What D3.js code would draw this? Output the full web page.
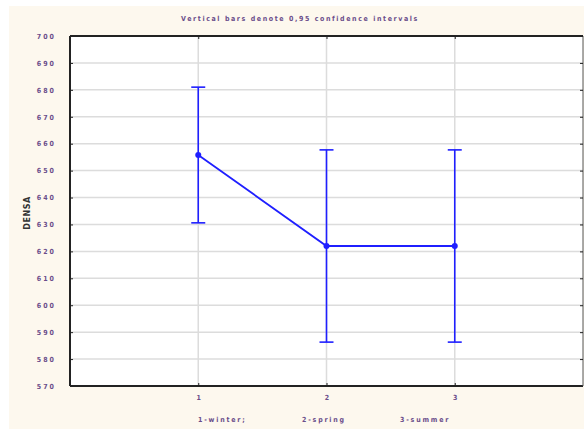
<!DOCTYPE html>
<html><head><meta charset="utf-8">
<script src="https://cdn.jsdelivr.net/npm/d3@7"></script>
<style>body{margin:0;background:#fff}svg{display:block}</style>
</head><body>
<script>
const categories = [1, 2, 3];
const categoryNames = ["1-winter;", "2-spring", "3-summer"];
const means = [655.8, 622.0, 622.0];
const upper = [681.0, 657.7, 657.7];
const lower = [630.6, 586.3, 586.3];
const yTicks = [570, 580, 590, 600, 610, 620, 630, 640, 650, 660, 670, 680, 690, 700];
const title = "Vertical bars denote 0,95 confidence intervals";
const yLabel = "DENSA";

const W = 584, H = 429;
const svg = d3.select("body").append("svg").attr("width", W).attr("height", H);
svg.append("rect").attr("x", 9).attr("y", 6).attr("width", W - 9).attr("height", H - 6).attr("fill", "#fdf8ee");

const L = 70, R = 583, T = 36, B = 386;
const x = d3.scaleLinear().domain([0, 4]).range([L, R]);
const y = d3.scaleLinear().domain([570, 700]).range([B, T]);

svg.append("rect").attr("x", L).attr("y", T).attr("width", R - L).attr("height", B - T).attr("fill", "#fff");

const g = svg.append("g");
// grid
g.selectAll(".hg").data(yTicks.slice(1, -1)).enter().append("line")
  .attr("x1", L).attr("x2", R).attr("y1", d => y(d)).attr("y2", d => y(d))
  .attr("stroke", "#dcdcdc").attr("stroke-width", 1.5);
g.selectAll(".vg").data(categories).enter().append("line")
  .attr("y1", T).attr("y2", B).attr("x1", d => x(d)).attr("x2", d => x(d))
  .attr("stroke", "#dcdcdc").attr("stroke-width", 1.5);

// frame
svg.append("line").attr("x1", L).attr("x2", R).attr("y1", T).attr("y2", T).attr("stroke", "#222").attr("stroke-width", 2);
svg.append("line").attr("x1", L).attr("x2", R).attr("y1", B).attr("y2", B).attr("stroke", "#222").attr("stroke-width", 2);
svg.append("line").attr("x1", L).attr("x2", L).attr("y1", T).attr("y2", B).attr("stroke", "#222").attr("stroke-width", 2);
svg.append("line").attr("x1", R).attr("x2", R).attr("y1", T).attr("y2", B).attr("stroke", "#555").attr("stroke-width", 1);

// axes
const fontTick = "bold 7px 'DejaVu Sans Condensed', 'DejaVu Sans', sans-serif";
const yAxis = d3.axisLeft(y).tickValues(yTicks).tickSize(-3).tickPadding(14).tickFormat(d3.format("d"));
const ya = svg.append("g").attr("transform", `translate(${L},0)`).call(yAxis);
ya.select(".domain").remove();
ya.selectAll("line").attr("stroke", "#222");
ya.selectAll("text").style("font", fontTick).attr("fill", "#6a4d8a").attr("letter-spacing", "2px");

const yAxisR = d3.axisRight(y).tickValues(yTicks).tickSize(-3).tickFormat("");
const yr = svg.append("g").attr("transform", `translate(${R},0)`).call(yAxisR);
yr.select(".domain").remove();
yr.selectAll("line").attr("stroke", "#222");

const xAxis = d3.axisBottom(x).tickValues(categories).tickSize(-3).tickPadding(9).tickFormat(d3.format("d"));
const xa = svg.append("g").attr("transform", `translate(0,${B})`).call(xAxis);
xa.select(".domain").remove();
xa.selectAll("line").attr("stroke", "#222");
xa.selectAll("text").style("font", fontTick).attr("fill", "#6a4d8a");

const xAxisT = d3.axisTop(x).tickValues(categories).tickSize(-3).tickFormat("");
const xt = svg.append("g").attr("transform", `translate(0,${T})`).call(xAxisT);
xt.select(".domain").remove();
xt.selectAll("line").attr("stroke", "#222");

// title
svg.append("text").attr("x", 300).attr("y", 21).attr("text-anchor", "middle")
  .style("font", fontTick).attr("fill", "#6a4d8a").attr("letter-spacing", "1.6px").text(title);
// y label
svg.append("text").attr("transform", "translate(30,213) rotate(-90)").attr("text-anchor", "middle")
  .style("font", "bold 8px 'DejaVu Sans', sans-serif").attr("fill", "#333").attr("letter-spacing", "0.5px").text(yLabel);
// category names
const nameX = [198, 302, 400];
svg.selectAll(".cn").data(categoryNames).enter().append("text")
  .attr("x", (d, i) => nameX[i]).attr("y", 422)
  .style("font", fontTick).attr("fill", "#6a4d8a").attr("letter-spacing", "1.8px").text(d => d);

// data
const blue = "#1f1fff";
const data = categories.map((c, i) => ({c, m: means[i], u: upper[i], l: lower[i]}));
const eb = svg.append("g");
eb.selectAll(".v").data(data).enter().append("line")
  .attr("x1", d => x(d.c)).attr("x2", d => x(d.c)).attr("y1", d => y(d.u)).attr("y2", d => y(d.l))
  .attr("stroke", blue).attr("stroke-width", 1.6);
eb.selectAll(".cu").data(data).enter().append("line")
  .attr("x1", d => x(d.c) - 7).attr("x2", d => x(d.c) + 7).attr("y1", d => y(d.u)).attr("y2", d => y(d.u))
  .attr("stroke", blue).attr("stroke-width", 1.6);
eb.selectAll(".cl").data(data).enter().append("line")
  .attr("x1", d => x(d.c) - 7).attr("x2", d => x(d.c) + 7).attr("y1", d => y(d.l)).attr("y2", d => y(d.l))
  .attr("stroke", blue).attr("stroke-width", 1.6);
eb.append("path").datum(data)
  .attr("d", d3.line().x(d => x(d.c)).y(d => y(d.m)))
  .attr("fill", "none").attr("stroke", blue).attr("stroke-width", 1.8);
eb.selectAll("circle").data(data).enter().append("circle")
  .attr("cx", d => x(d.c)).attr("cy", d => y(d.m)).attr("r", 3).attr("fill", blue);
</script>
</body></html>
